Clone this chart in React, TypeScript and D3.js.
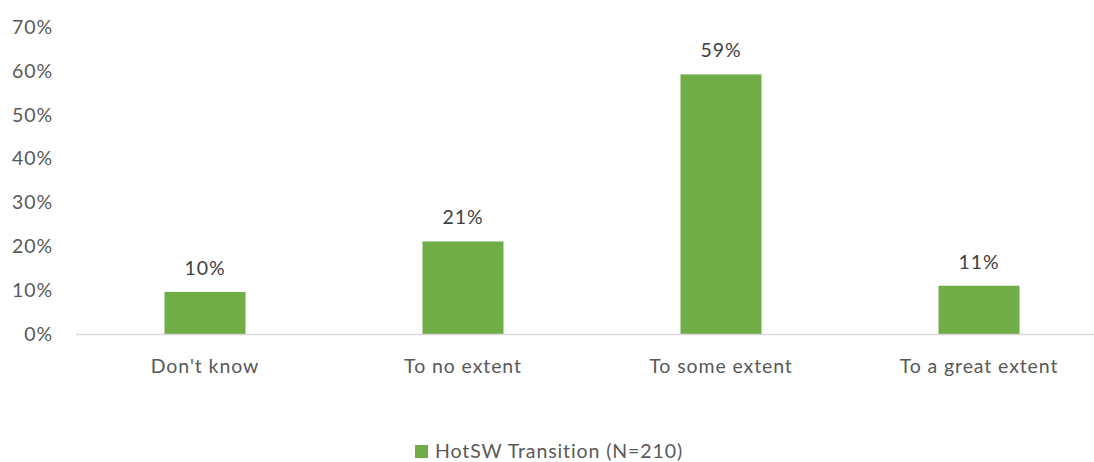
import React from "react";
import * as d3 from "d3";

const categories = ["Don't know", "To no extent", "To some extent", "To a great extent"];
const values = [0.096, 0.211, 0.592, 0.110];
const yTicks = [0, 0.1, 0.2, 0.3, 0.4, 0.5, 0.6, 0.7];
const seriesName = "HotSW Transition (N=210)";

const W = 1094;
const H = 462;
const FONT = "Lato, 'Open Sans', sans-serif";
const FS = 19.5;
const LS = 0.9;
const GREEN = "#70AD47";

export default function App() {
  const x = d3.scaleBand<string>().domain(categories).range([76, 1108]).paddingInner(0.686).paddingOuter(0.343);
  const y = d3.scaleLinear().domain([0, 0.7]).range([334, 27]);
  const pct = d3.format(".0%");
  const textProps = { fontFamily: FONT, fontSize: FS, letterSpacing: LS };

  return (
    <svg width={W} height={H} style={{ position: "absolute", left: 0, top: 0, background: "#fff" }}>
      {/* y-axis tick labels */}
      {yTicks.map((t) => (
        <text key={t} x={53} y={y(t)} dy="0.35em" textAnchor="end" {...textProps} fill="#595959">
          {pct(t)}
        </text>
      ))}
      {/* bars */}
      {categories.map((c, i) => (
        <rect key={c} x={x(c)} y={y(values[i])} width={x.bandwidth()} height={y(0) - y(values[i])} fill={GREEN} />
      ))}
      {/* baseline */}
      <line x1={76} x2={W} y1={y(0) + 0.5} y2={y(0) + 0.5} stroke="#D9D9D9" strokeWidth={1.5} />
      {/* value labels */}
      {categories.map((c, i) => (
        <text key={c} x={(x(c) as number) + x.bandwidth() / 2} y={y(values[i]) - 24} dy="0.35em" textAnchor="middle" {...textProps} fill="#404040">
          {pct(values[i])}
        </text>
      ))}
      {/* category labels */}
      {categories.map((c) => (
        <text key={c} x={(x(c) as number) + x.bandwidth() / 2} y={366} dy="0.35em" textAnchor="middle" {...textProps} fill="#595959">
          {c}
        </text>
      ))}
      {/* legend */}
      <rect x={415} y={445} width={13} height={13} fill={GREEN} />
      <text x={435} y={451.5} dy="0.35em" {...textProps} fill="#595959">
        {seriesName}
      </text>
    </svg>
  );
}
